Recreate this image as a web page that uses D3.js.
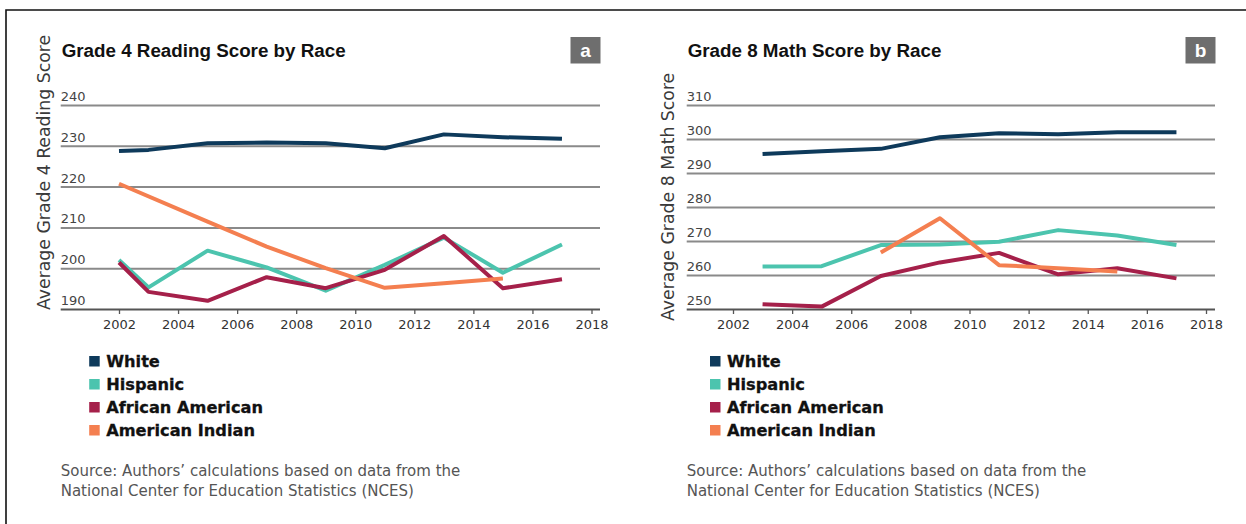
<!DOCTYPE html>
<html>
<head>
<meta charset="utf-8">
<script src="https://cdn.jsdelivr.net/npm/d3@7"></script>
<style>
  html, body { margin: 0; padding: 0; background: #fff; }
  svg { display: block; }
</style>
</head>
<body>
<svg id="chart" width="1246" height="524"></svg>
<script>
// ---- series ----
const seriesNames  = ["White", "Hispanic", "African American", "American Indian"];
const seriesColors = ["#0e3a5b", "#4cc4ae", "#a5204a", "#f47f50"];

// ---- Grade 4 reading (NAEP average scale score) ----
const readingYears    = [2002, 2003, 2005, 2007, 2009, 2011, 2013, 2015, 2017];
const readingWhite    = [228.7, 229.0, 230.6, 230.8, 230.6, 229.4, 232.8, 232.1, 231.7];
const readingHispanic = [202.0, 195.3, 204.3, 200.2, 194.5, 200.8, 207.5, 198.9, 205.8];
const readingBlack    = [201.4, 194.2, 192.0, 197.8, 195.1, 199.6, 207.9, 195.1, 197.3];
const readingIndian   = [220.7, null, 211.4, 205.3, 200.0, 195.2, 196.3, 197.5, null];
const readingTicks    = [190, 200, 210, 220, 230, 240];

// ---- Grade 8 math ----
const mathYears    = [2003, 2005, 2007, 2009, 2011, 2013, 2015, 2017];
const mathWhite    = [295.6, 296.4, 297.1, 300.5, 301.7, 301.4, 302.0, 302.0];
const mathHispanic = [262.5, 262.6, 268.8, 269.0, 269.8, 273.2, 271.6, 268.8];
const mathBlack    = [251.4, 250.7, 259.7, 263.7, 266.5, 260.2, 262.0, 259.0];
const mathIndian   = [null, null, 266.6, 276.7, 262.9, 262.0, 261.0, null];
const mathTicks    = [250, 260, 270, 280, 290, 300, 310];

const yearTicks = [2002, 2004, 2006, 2008, 2010, 2012, 2014, 2016, 2018];

const sourceLines = [
  "Source: Authors\u2019 calculations based on data from the",
  "National Center for Education Statistics (NCES)"
];

const panels = [
  {
    title: "Grade 4 Reading Score by Race",
    badge: "a",
    yTitle: "Average Grade 4 Reading Score",
    years: readingYears,
    series: [readingWhite, readingHispanic, readingBlack, readingIndian],
    yTicks: readingTicks,
    gridLeft: 60.7, gridRight: 600,
    xRange: [119, 591.5],
    yTitleX: 50, yTitleY: 310,
    legendX: 89.2
  },
  {
    title: "Grade 8 Math Score by Race",
    badge: "b",
    yTitle: "Average Grade 8 Math Score",
    years: mathYears,
    series: [mathWhite, mathHispanic, mathBlack, mathIndian],
    yTicks: mathTicks,
    gridLeft: 686.7, gridRight: 1215,
    xRange: [733, 1206],
    yTitleX: 674, yTitleY: 321,
    legendX: 710
  }
];

const svg = d3.select("#chart");
const FONT = "'DejaVu Sans', sans-serif";

// outer frame (top and left rules)
svg.append("path")
  .attr("d", "M6,524V10H1246")
  .attr("fill", "none")
  .attr("stroke", "#111")
  .attr("stroke-width", 1.6);

const plotTop = 105, plotBottom = 309;

panels.forEach(p => {
  const g = svg.append("g");

  const x = d3.scaleLinear().domain([2002, 2018]).range(p.xRange);
  const y = d3.scaleLinear()
    .domain([d3.min(p.yTicks), d3.max(p.yTicks)])
    .range([plotBottom, plotTop]);

  // title
  g.append("text")
    .attr("x", p.gridLeft + 1)
    .attr("y", 56.5)
    .attr("font-family", "'Liberation Sans', Arial, sans-serif")
    .attr("font-weight", 700)
    .attr("font-size", 18.8)
    .attr("fill", "#111")
    .text(p.title);

  // panel badge
  g.append("rect")
    .attr("x", p.gridRight - 29.5)
    .attr("y", 37)
    .attr("width", 30)
    .attr("height", 26.5)
    .attr("fill", "#6e6e6e");
  g.append("text")
    .attr("x", p.gridRight - 14.5)
    .attr("y", 56.5)
    .attr("text-anchor", "middle")
    .attr("font-family", "'Liberation Sans', Arial, sans-serif")
    .attr("font-weight", 700)
    .attr("font-size", 19)
    .attr("fill", "#fff")
    .text(p.badge);

  // y-axis title
  g.append("text")
    .attr("transform", `translate(${p.yTitleX},${p.yTitleY}) rotate(-90)`)
    .attr("font-family", FONT)
    .attr("font-size", 17.3)
    .attr("fill", "#3a3a3a")
    .text(p.yTitle);

  // horizontal gridlines with labels sitting above each line
  const yAxis = d3.axisRight(y)
    .tickValues(p.yTicks)
    .tickSize(p.gridRight - p.gridLeft)
    .tickFormat(d3.format("d"));
  const ya = g.append("g")
    .attr("transform", `translate(${p.gridLeft},0)`)
    .call(yAxis);
  ya.select(".domain").remove();
  ya.selectAll(".tick line")
    .attr("stroke", d => d === d3.min(p.yTicks) ? "#555" : "#8a8a8a")
    .attr("stroke-width", 2);
  ya.selectAll(".tick text")
    .attr("x", 0)
    .attr("dy", -4.5)
    .attr("text-anchor", "start")
    .attr("font-family", FONT)
    .attr("font-size", 13)
    .attr("fill", "#444");

  // x axis (ticks hang below the bottom line)
  const xAxis = d3.axisBottom(x)
    .tickValues(yearTicks)
    .tickSize(5)
    .tickPadding(6)
    .tickFormat(d3.format("d"));
  const xa = g.append("g")
    .attr("transform", `translate(0,${plotBottom})`)
    .call(xAxis);
  xa.select(".domain").remove();
  xa.selectAll(".tick line").attr("stroke", "#555").attr("stroke-width", 1.3);
  xa.selectAll(".tick text")
    .attr("font-family", FONT)
    .attr("font-size", 13)
    .attr("fill", "#333");

  // series lines
  const line = d3.line()
    .x(d => x(d.year))
    .y(d => y(d.value));
  p.series.forEach((vals, i) => {
    const pts = p.years
      .map((yr, j) => ({ year: yr, value: vals[j] }))
      .filter(d => d.value != null);
    g.append("path")
      .datum(pts)
      .attr("fill", "none")
      .attr("stroke", seriesColors[i])
      .attr("stroke-width", 4)
      .attr("stroke-linejoin", "round")
      .attr("d", line);
  });

  // legend
  const lg = g.append("g").attr("transform", `translate(${p.legendX},0)`);
  seriesNames.forEach((name, i) => {
    const base = 366.5 + i * 23;
    lg.append("rect")
      .attr("x", 0)
      .attr("y", base - 10.5)
      .attr("width", 10.5)
      .attr("height", 10.5)
      .attr("fill", seriesColors[i]);
    lg.append("text")
      .attr("x", 17)
      .attr("y", base)
      .attr("font-family", FONT)
      .attr("font-weight", 700)
      .attr("font-size", 16.2)
      .attr("fill", "#111")
      .attr("stroke", "#111")
      .attr("stroke-width", 0.3)
      .text(name);
  });

  // source note
  sourceLines.forEach((s, i) => {
    g.append("text")
      .attr("x", p.gridLeft)
      .attr("y", 476 + i * 20)
      .attr("font-family", FONT)
      .attr("font-size", 15)
      .attr("fill", "#555")
      .text(s);
  });
});
</script>
</body>
</html>
